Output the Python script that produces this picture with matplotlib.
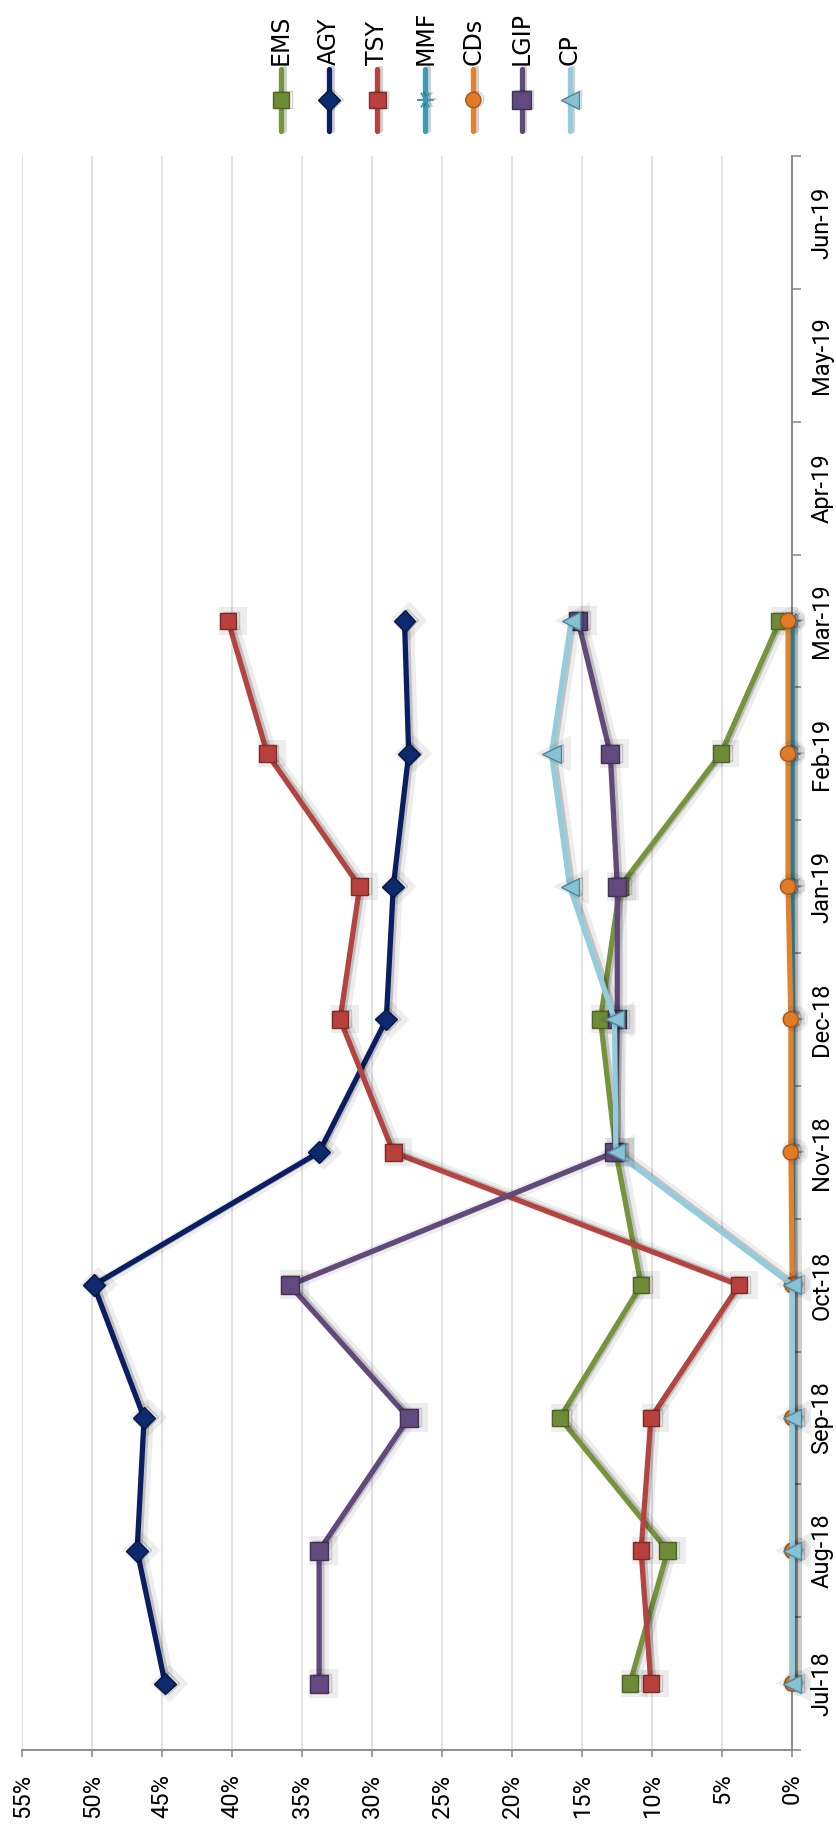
import numpy as np
import matplotlib
matplotlib.use("Agg")
import matplotlib.pyplot as plt
import matplotlib.patheffects as pe
from matplotlib.ticker import MultipleLocator, PercentFormatter

# Month categories (only Jul-18 .. Mar-19 carry data)
months = ["Jul-18", "Aug-18", "Sep-18", "Oct-18", "Nov-18", "Dec-18",
          "Jan-19", "Feb-19", "Mar-19", "Apr-19", "May-19", "Jun-19"]

# Portfolio share by sector, percent
ems = [11.6, 8.9, 16.6, 10.8, 12.6, 13.7, 12.3, 5.1, 0.9]
agy = [44.8, 46.8, 46.3, 49.9, 33.8, 29.0, 28.5, 27.4, 27.7]
tsy = [10.1, 10.8, 10.1, 3.8, 28.5, 32.3, 30.9, 37.5, 40.3]
mmf = [0.0, 0.0, 0.0, 0.0, 0.0, 0.0, 0.0, 0.0, 0.0]
cds = [0.0, 0.0, 0.0, 0.0, 0.1, 0.1, 0.3, 0.3, 0.3]
lgip = [33.8, 33.8, 27.4, 35.9, 12.7, 12.5, 12.5, 13.0, 15.3]
cp = [0.0, 0.0, 0.0, 0.0, 12.6, 12.7, 15.9, 17.2, 15.8]

names = ["EMS", "AGY", "TSY", "MMF", "CDs", "LGIP", "CP"]
values = [ems, agy, tsy, mmf, cds, lgip, cp]

# line colour, marker, marker size, marker face, marker edge
styles = [
    ("#77933C", "s", 12, "#6E8B35", "#4F6228"),
    ("#0A1F63", "D", 11, "#0D2A6E", "#061640"),
    ("#B3443F", "s", 12, "#B9413D", "#7E2B28"),
    ("#3D9BB4", (6, 2, 90), 12, "#3D9BB4", "#3D9BB4"),
    ("#E3822E", "o", 11, "#E07B27", "#A9561A"),
    ("#604A7B", "s", 13, "#62497F", "#3F3151"),
    ("#93CDDD", "<", 13, "#86C2D3", "#4F8797"),
]

AXIS_GRAY = "#868686"
GRID_GRAY = "#D9D9D9"
TICK_FONT = ["Roboto", "DejaVu Sans"]
LW = 3.8

shadow = [
    pe.SimpleLineShadow(offset=(3.0, 0.5), shadow_color="k", alpha=0.07, linewidth=8),
    pe.SimpleLineShadow(offset=(2.0, 0.5), shadow_color="k", alpha=0.18),
    pe.Normal(),
]

W, H = 836, 1830
fig = plt.figure(figsize=(W / 100, H / 100), dpi=100)
fig.patch.set_facecolor("white")

# main plot, drawn turned on its side: values run right-to-left, months bottom-to-top
x0, x1, y_top, y_bot = 22.3, 792.3, 156, 1750
ax = fig.add_axes([x0 / W, 1 - y_bot / H, (x1 - x0) / W, (y_bot - y_top) / H])
ax.set_xlim(55, 0)
ax.set_ylim(-0.5, len(months) - 0.5)

ax.xaxis.set_major_locator(MultipleLocator(5))
ax.xaxis.set_major_formatter(PercentFormatter(decimals=0))
ax.grid(axis="x", color=GRID_GRAY, linewidth=1.1)
ax.set_axisbelow(True)

ax.yaxis.tick_right()
ax.set_yticks(range(len(months)))
ax.set_yticklabels(months, rotation=90, va="center", ha="left")
ax.set_yticks(np.arange(-0.5, len(months), 1), minor=True)
ax.tick_params(axis="y", which="major", length=0, pad=13)
ax.tick_params(axis="y", which="minor", length=6.5, width=1.1, color=AXIS_GRAY, direction="out")
ax.tick_params(axis="x", length=5, width=1.1, color=AXIS_GRAY, pad=12, labelrotation=90)

for lab in ax.get_xticklabels() + ax.get_yticklabels():
    lab.set_fontfamily(TICK_FONT)
    lab.set_fontsize(17)
    lab.set_color("black")

for side in ["top", "left"]:
    ax.spines[side].set_visible(False)
for side in ["bottom", "right"]:
    ax.spines[side].set_color(AXIS_GRAY)
    ax.spines[side].set_linewidth(1.3)

for k, (name, vals) in enumerate(zip(names, values)):
    color, marker, ms, mfc, mec = styles[k]
    ax.plot(vals, range(len(vals)), color=color, linewidth=LW,
            marker=marker, markersize=ms, markerfacecolor=mfc, markeredgecolor=mec,
            markeredgewidth=1.0, solid_joinstyle="round", solid_capstyle="round",
            path_effects=shadow, zorder=3 + k, clip_on=False)

# legend along the top: short vertical strokes with the label above each
step = 48.1
lx0 = 281 - step / 2
leg = fig.add_axes([lx0 / W, 1 - 131 / H, len(names) * step / W, 62 / H])
leg.set_xlim(-0.5, len(names) - 0.5)
leg.set_ylim(0, 1)
leg.axis("off")
for k, name in enumerate(names):
    color, marker, ms, mfc, mec = styles[k]
    leg.plot([k, k], [0, 1], color=color, linewidth=LW, solid_capstyle="round",
             path_effects=shadow[1:], clip_on=False)
    leg.plot([k], [0.5], linestyle="none", marker=marker, markersize=ms,
             markerfacecolor=mfc, markeredgecolor=mec, markeredgewidth=1.0,
             path_effects=shadow[1:], clip_on=False)
    leg.annotate(name, (k, 1), xytext=(0, 3), textcoords="offset points",
                 rotation=90, ha="center", va="bottom", fontsize=17,
                 family="DejaVu Sans", annotation_clip=False)

fig.savefig("out.png", dpi=100, facecolor="white")
